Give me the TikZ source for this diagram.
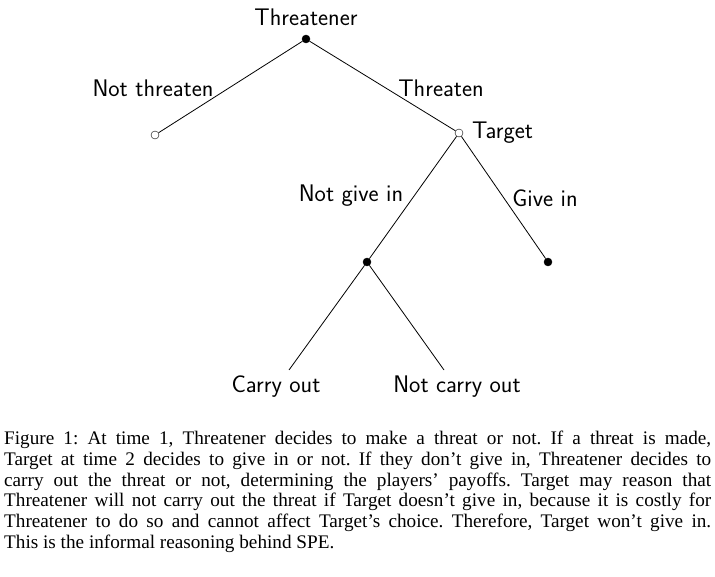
\documentclass[tikz,border=0pt]{standalone}
\usepackage{fontspec}
\setmainfont{Liberation Serif}
\begin{document}
\frenchspacing
\begin{tikzpicture}[x=1pt,y=-1pt,
  lab/.style={font=\sffamily\fontsize{24}{26}\selectfont, inner sep=0pt},
  fnode/.style={circle,fill=black,draw=black,inner sep=0pt,minimum size=8pt},
  onode/.style={circle,fill=white,draw=black,inner sep=0pt,minimum size=8pt},
  edge/.style={draw=black,line width=0.8pt}]
\useasboundingbox (0,0) rectangle (715,577);
\node[fnode] (r) at (306,39) {};
\node[onode] (l) at (155,135) {};
\node[onode] (t) at (459,133) {};
\node[fnode] (n) at (367,262) {};
\node[fnode] (g) at (548,262) {};
\coordinate (c) at (289,370);
\coordinate (d) at (444,370);
\draw[edge] (r) -- (l);
\draw[edge] (r) -- (t);
\draw[edge] (t) -- (n);
\draw[edge] (t) -- (g);
\draw[edge] (n) -- (c);
\draw[edge] (n) -- (d);
\node[lab] (lr) at (306,17) {Threatener};
\node[lab] (lnt) at (153,88) {Not threaten};
\node[lab] (lth) at (441,88) {Threaten};
\node[lab,anchor=west] (lt) at (472,133) {Target};
\node[lab] (lng) at (351,196) {Not give in};
\node[lab] (lg) at (545,198) {Give in};
\node[lab] (lc) at (276,387) {Carry out};
\node[lab] (lnc) at (457,387) {Not carry out};
\node[anchor=north west,inner sep=0pt,text width=707pt,align=justify,
  font=\fontsize{19.2}{20.7}\selectfont] (cap) at (4,431)
{Figure 1: At time 1, Threatener decides to make a threat or not. If a threat is made,\linebreak Target at time 2 decides to give in or not. If they don't give in, Threatener decides to\linebreak carry out the threat or not, determining the players' payoffs. Target may reason that\linebreak Threatener will not carry out the threat if Target doesn't give in, because it is costly for\linebreak Threatener to do so and cannot affect Target's choice. Therefore, Target won't give in.\linebreak This is the informal reasoning behind SPE.};
\end{tikzpicture}
\end{document}
